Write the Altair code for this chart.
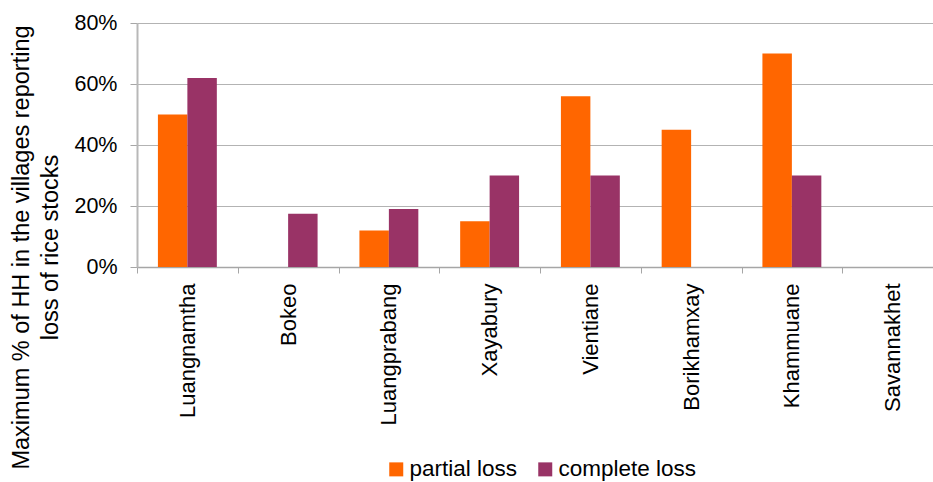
import altair as alt
import pandas as pd

# Provinces and the share of households reporting loss of rice stocks
provinces = ["Luangnamtha", "Bokeo", "Luangprabang", "Xayabury",
             "Vientiane", "Borikhamxay", "Khammuane", "Savannakhet"]
partial_loss = [0.50, 0.0, 0.12, 0.15, 0.56, 0.45, 0.70, 0.0]
complete_loss = [0.62, 0.175, 0.19, 0.30, 0.30, 0.0, 0.30, 0.0]
series = ["partial loss", "complete loss"]
colors = ["#FF6600", "#993366"]
y_ticks = [0.0, 0.2, 0.4, 0.6, 0.8]

rows = []
for i, p in enumerate(provinces):
    rows.append({"province": p, "series": series[0], "value": partial_loss[i]})
    rows.append({"province": p, "series": series[1], "value": complete_loss[i]})
df = pd.DataFrame(rows)

FONT = "Liberation Sans"

bars = alt.Chart(df).mark_bar().encode(
    x=alt.X(
        "province:N",
        sort=provinces,
        title=None,
        scale=alt.Scale(range=[0, 806], paddingInner=0, paddingOuter=0),
        axis=alt.Axis(
            labelAngle=-90,
            labelFontSize=22,
            labelFont=FONT,
            labelColor="#000000",
            labelPadding=10,
            tickBand="extent",
            tickSize=6,
            tickColor="#a6a6a6",
            domainColor="#a6a6a6",
            domainWidth=1.5,
            grid=False,
        ),
    ),
    xOffset=alt.XOffset(
        "series:N",
        sort=series,
        scale=alt.Scale(paddingInner=0, paddingOuter=0.71),
    ),
    y=alt.Y(
        "value:Q",
        scale=alt.Scale(domain=[0, 0.8], nice=False),
        title=["Maximum % of HH in the villages reporting", "loss of rice stocks"],
        axis=alt.Axis(
            values=y_ticks,
            format=".0%",
            labelFontSize=21.5,
            labelFont=FONT,
            labelColor="#000000",
            labelPadding=13,
            tickSize=7,
            tickColor="#a6a6a6",
            domainColor="#b8b8b8",
            domainWidth=2,
            gridColor="#b3b3b3",
            gridWidth=1,
            titleFont=FONT,
            titleFontSize=23.5,
            titleFontWeight="normal",
            titleColor="#000000",
            titleAngle=-90,
            titleAlign="center",
            titleBaseline="top",
            titleX=-128,
            titleY=224,
            titleLineHeight=29,
        ),
    ),
    color=alt.Color(
        "series:N",
        sort=series,
        scale=alt.Scale(domain=series, range=colors),
        legend=alt.Legend(
            title=None,
            orient="none",
            direction="horizontal",
            legendX=248,
            legendY=435,
            symbolType="square",
            symbolSize=196,
            symbolStrokeWidth=0,
            labelFontSize=22.5,
            labelFont=FONT,
            labelColor="#000000",
            labelOffset=2,
            columnPadding=16,
            padding=0,
        ),
    ),
)

chart = bars.properties(
    width=796,
    height=244,
    autosize=alt.AutoSizeParams(type="none"),
    padding={"left": 137, "top": 23, "right": 0, "bottom": 215},
).configure_view(stroke=None).configure(background="#ffffff")

chart.save("out.html", embed_options={"renderer": "svg", "actions": False})
